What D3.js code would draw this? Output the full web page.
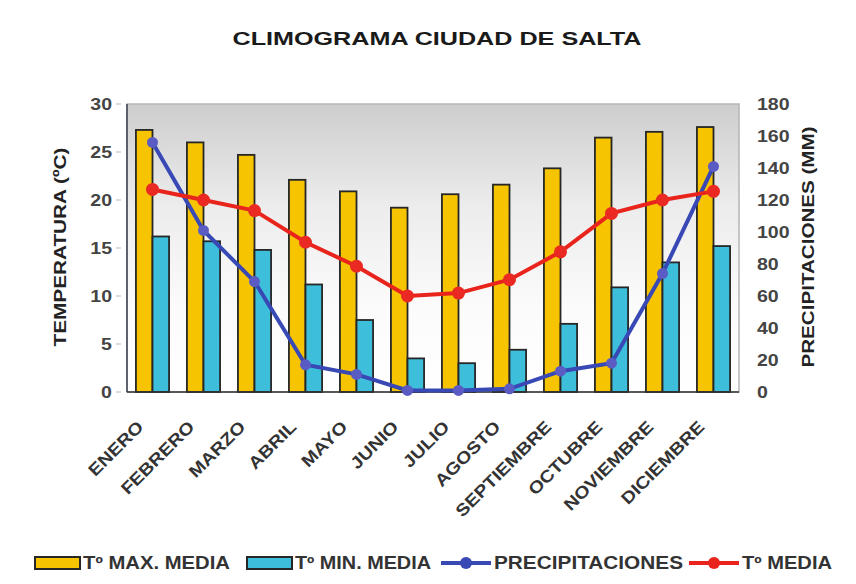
<!DOCTYPE html>
<html>
<head>
<meta charset="utf-8">
<script src="https://cdn.jsdelivr.net/npm/d3@7"></script>
<style>
body { margin: 0; background: #fff; }
text { font-family: "Liberation Sans", Arial, sans-serif; font-weight: bold; fill: #333; }
</style>
</head>
<body>
<script>
let width = 856
let height = 584

let months = ["ENERO", "FEBRERO", "MARZO", "ABRIL", "MAYO", "JUNIO", "JULIO", "AGOSTO", "SEPTIEMBRE", "OCTUBRE", "NOVIEMBRE", "DICIEMBRE"]
let tMax = [27.3, 26.0, 24.7, 22.1, 20.9, 19.2, 20.6, 21.6, 23.3, 26.5, 27.1, 27.6]
let tMin = [16.2, 15.7, 14.8, 11.2, 7.5, 3.5, 3.0, 4.4, 7.1, 10.9, 13.5, 15.2]
let tMed = [21.1, 20.0, 18.9, 15.6, 13.1, 10.0, 10.3, 11.7, 14.6, 18.6, 20.0, 20.9]
let precip = [156, 101, 69, 17, 11, 1, 1, 2, 13, 18, 74, 141]
let tempTicks = [0, 5, 10, 15, 20, 25, 30]
let precTicks = [0, 20, 40, 60, 80, 100, 120, 140, 160, 180]

let legendItems = [
	{label: "Tº MAX. MEDIA", type: "bar", color: "#f6c400"},
	{label: "Tº MIN. MEDIA", type: "bar", color: "#3dbfdc"},
	{label: "PRECIPITACIONES", type: "line", color: "#3848b4"},
	{label: "Tº MEDIA", type: "line", color: "#e8241c"}
]

let plotL = 127, plotR = 739, plotT = 104, plotB = 392

let svg = d3.select("body")
.append("svg")
.attr("width", width)
.attr("height", height)

// stretch text horizontally like the scanned original
function stretch(sel, k) {
	sel.each(function() {
		let l = this.getComputedTextLength()
		d3.select(this).attr("textLength", l * k).attr("lengthAdjust", "spacingAndGlyphs")
	})
}

//scales
let x = d3.scaleBand()
.domain(months)
.range([plotL, plotR])
.paddingInner(0.35)
.paddingOuter(0.175)

let x1 = d3.scaleBand()
.domain(["max", "min"])
.range([0, x.bandwidth()])

let y = d3.scaleLinear()
.domain([0, 30])
.range([plotB, plotT])

let y2 = d3.scaleLinear()
.domain([0, 180])
.range([plotB, plotT])

let defs = svg.append("defs")
let grad = defs.append("linearGradient")
.attr("id", "bg")
.attr("x1", 0).attr("y1", 0).attr("x2", 0).attr("y2", 1)
grad.append("stop").attr("offset", "0%").attr("stop-color", "#cdcdcd")
grad.append("stop").attr("offset", "35%").attr("stop-color", "#ececec")
grad.append("stop").attr("offset", "70%").attr("stop-color", "#fbfbfb")
grad.append("stop").attr("offset", "100%").attr("stop-color", "#ffffff")

svg.append("rect")
.attr("x", plotL)
.attr("y", plotT)
.attr("width", plotR - plotL)
.attr("height", plotB - plotT)
.style("fill", "url(#bg)")
.style("stroke", "#b5b5b5")
.style("stroke-width", 1.5)

svg.append("line")
.attr("x1", plotL).attr("x2", plotL)
.attr("y1", plotT).attr("y2", plotB)
.style("stroke", "#3a4050")
.style("stroke-width", 1.5)

//title
svg.append("text")
.attr("x", 437)
.attr("y", 45)
.attr("text-anchor", "middle")
.style("font-size", "19px")
.style("fill", "#1a1a1a")
.attr("textLength", 409)
.attr("lengthAdjust", "spacingAndGlyphs")
.text("CLIMOGRAMA CIUDAD DE SALTA")

//bars
let g = svg.selectAll(".month")
.data(months)
.enter()
.append("g")
.attr("transform", d => "translate(" + x(d) + ",0)")

g.append("rect")
.attr("x", x1("max"))
.attr("y", (d, i) => y(tMax[i]))
.attr("width", x1.bandwidth())
.attr("height", (d, i) => plotB - y(tMax[i]))
.style("fill", "#f6c400")
.style("stroke", "#262626")
.style("stroke-width", 1.8)

g.append("rect")
.attr("x", x1("min"))
.attr("y", (d, i) => y(tMin[i]))
.attr("width", x1.bandwidth())
.attr("height", (d, i) => plotB - y(tMin[i]))
.style("fill", "#3dbfdc")
.style("stroke", "#262626")
.style("stroke-width", 1.8)

svg.append("line")
.attr("x1", plotL).attr("x2", plotR)
.attr("y1", plotB).attr("y2", plotB)
.style("stroke", "#333")
.style("stroke-width", 1.5)

//lines
let cx = d => x(d) + x.bandwidth() / 2

let precLine = d3.line()
.x(d => cx(d))
.y((d, i) => y2(precip[i]))

let medLine = d3.line()
.x(d => cx(d))
.y((d, i) => y(tMed[i]))

svg.append("path")
.datum(months)
.attr("d", precLine)
.style("fill", "none")
.style("stroke", "#3848b4")
.style("stroke-width", 4)

svg.selectAll(".pmark")
.data(months)
.enter()
.append("circle")
.attr("cx", d => cx(d))
.attr("cy", (d, i) => y2(precip[i]))
.attr("r", 5.5)
.style("fill", "#5a5cc4")

svg.append("path")
.datum(months)
.attr("d", medLine)
.style("fill", "none")
.style("stroke", "#e8241c")
.style("stroke-width", 4)

svg.selectAll(".tmark")
.data(months)
.enter()
.append("circle")
.attr("cx", d => cx(d))
.attr("cy", (d, i) => y(tMed[i]))
.attr("r", 6.5)
.style("fill", "#ea2a22")

//axes labels
svg.selectAll(".ltick")
.data(tempTicks)
.enter()
.append("text")
.attr("x", 112)
.attr("y", d => y(d) + 6)
.attr("text-anchor", "end")
.style("font-size", "16px")
.style("fill", "#444")
.text(d => d)
.call(stretch, 1.22)

svg.selectAll(".ltickmark")
.data(tempTicks)
.enter()
.append("line")
.attr("x1", 116).attr("x2", 121)
.attr("y1", d => y(d)).attr("y2", d => y(d))
.style("stroke", "#bbb")

svg.selectAll(".rtick")
.data(precTicks)
.enter()
.append("text")
.attr("x", 757)
.attr("y", d => y2(d) + 6)
.style("font-size", "16px")
.style("fill", "#444")
.text(d => d)
.call(stretch, 1.22)

svg.append("text")
.attr("transform", "translate(66,247) rotate(-90)")
.attr("text-anchor", "middle")
.style("font-size", "17px")
.style("fill", "#222")
.attr("textLength", 199)
.attr("lengthAdjust", "spacingAndGlyphs")
.text("TEMPERATURA (ºC)")

svg.append("text")
.attr("transform", "translate(814,247) rotate(-90)")
.attr("text-anchor", "middle")
.style("font-size", "17px")
.style("fill", "#222")
.attr("textLength", 241)
.attr("lengthAdjust", "spacingAndGlyphs")
.text("PRECIPITACIONES (MM)")

svg.selectAll(".mlabel")
.data(months)
.enter()
.append("text")
.attr("transform", d => "translate(" + (cx(d) - 8) + ",428) rotate(-45)")
.attr("text-anchor", "end")
.style("font-size", "17px")
.style("fill", "#333")
.text(d => d)
.call(stretch, 1.15)

//legend
let legendX = [35, 247, 441, 689]
let legendTextW = [147, 136, 189, 90]

let lg = svg.selectAll(".legend")
.data(legendItems)
.enter()
.append("g")
.attr("transform", (d, i) => "translate(" + legendX[i] + ",563)")

lg.filter(d => d.type == "bar")
.append("rect")
.attr("x", 0).attr("y", -6)
.attr("width", 45).attr("height", 12)
.style("fill", d => d.color)
.style("stroke", "#262626")
.style("stroke-width", 2)

lg.filter(d => d.type == "line")
.append("line")
.attr("x1", 0).attr("x2", 50)
.attr("y1", 0).attr("y2", 0)
.style("stroke", d => d.color)
.style("stroke-width", 4)

lg.filter(d => d.type == "line")
.append("circle")
.attr("cx", 25).attr("cy", 0).attr("r", 6)
.style("fill", d => d.color)

lg.append("text")
.attr("x", d => d.type == "bar" ? 48 : 53)
.attr("y", 6)
.style("font-size", "18px")
.style("fill", "#333")
.attr("textLength", (d, i) => legendTextW[i])
.attr("lengthAdjust", "spacingAndGlyphs")
.text(d => d.label)
</script>
</body>
</html>
